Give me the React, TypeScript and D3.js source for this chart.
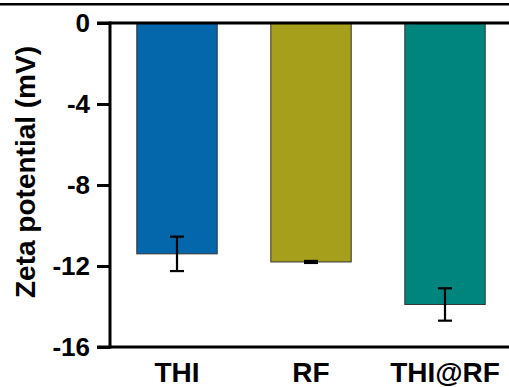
import React, { useRef, useEffect } from 'react';
import * as d3 from 'd3';

const categories = ['THI', 'RF', 'THI@RF'];
const means = [-11.4, -11.8, -13.9];
const errors = [0.85, 0.05, 0.8];
const colors = ['#0467ab', '#a59f1b', '#00857e'];
const yTicks = [0, -4, -8, -12, -16];

export default function App() {
  const svgRef = useRef<SVGSVGElement | null>(null);

  useEffect(() => {
    const W = 509;
    const H = 387;
    const svg = d3.select(svgRef.current);
    svg.selectAll('*').remove();
    svg.attr('width', W).attr('height', H);

    const left = 110;
    const top = 23;
    const bottom = 347;
    const font = 'Liberation Sans, Arial, sans-serif';

    const x = d3.scaleBand<string>()
      .domain(categories)
      .range([left, 512])
      .paddingInner(0.4)
      .paddingOuter(0.2);

    const y = d3.scaleLinear().domain([0, -16]).range([top, bottom]);

    const data = categories.map((c, i) => ({ c, v: means[i], e: errors[i], color: colors[i] }));

    // cropped frame line at top
    svg.append('rect').attr('x', 0).attr('y', 3).attr('width', W).attr('height', 2.5).attr('fill', '#000');

    // bars
    svg.append('g')
      .selectAll('rect')
      .data(data)
      .enter().append('rect')
      .attr('x', d => x(d.c)!)
      .attr('y', y(0))
      .attr('width', x.bandwidth())
      .attr('height', d => y(d.v) - y(0))
      .attr('fill', d => d.color)
      .attr('stroke', '#333')
      .attr('stroke-width', 1);

    // error bars
    const eb = svg.append('g').attr('stroke', '#000').attr('stroke-width', 2.2);
    data.forEach(d => {
      const cx = x(d.c)! + x.bandwidth() / 2;
      const y1 = y(d.v + d.e);
      const y2 = y(d.v - d.e);
      eb.append('line').attr('x1', cx).attr('x2', cx).attr('y1', y1).attr('y2', y2);
      eb.append('line').attr('x1', cx - 7).attr('x2', cx + 7).attr('y1', y1).attr('y2', y1);
      eb.append('line').attr('x1', cx - 7).attr('x2', cx + 7).attr('y1', y2).attr('y2', y2);
    });

    // Y axis
    const yAxis = svg.append('g')
      .attr('transform', `translate(${left},0)`)
      .call(d3.axisLeft(y).tickValues(yTicks).tickSize(13).tickPadding(7).tickFormat(d => String(d)));
    yAxis.select('.domain').remove();
    yAxis.selectAll('line').attr('stroke', '#000').attr('stroke-width', 3);
    yAxis.selectAll('text')
      .attr('fill', '#000')
      .style('font-family', font)
      .style('font-weight', '700')
      .style('font-size', '26px');

    svg.append('line')
      .attr('x1', left).attr('x2', left)
      .attr('y1', top - 1.5).attr('y2', bottom + 1.5)
      .attr('stroke', '#000').attr('stroke-width', 3);

    // horizontal lines at 0 and -16
    [0, -16].forEach(v => {
      svg.append('line')
        .attr('x1', left - 13).attr('x2', W)
        .attr('y1', y(v)).attr('y2', y(v))
        .attr('stroke', '#000').attr('stroke-width', 3);
    });

    // X labels
    svg.append('g')
      .selectAll('text')
      .data(categories)
      .enter().append('text')
      .attr('x', d => x(d)! + x.bandwidth() / 2)
      .attr('y', 382)
      .attr('text-anchor', 'middle')
      .style('font-family', font)
      .style('font-weight', '700')
      .style('font-size', '28px')
      .attr('fill', '#000')
      .text(d => d);

    // Y title
    svg.append('text')
      .attr('transform', `translate(35,172) rotate(-90)`)
      .attr('text-anchor', 'middle')
      .style('font-family', font)
      .style('font-weight', '700')
      .style('font-size', '28px')
      .attr('fill', '#000')
      .text('Zeta potential (mV)');
  }, []);

  return (
    <div style={{ position: 'absolute', left: 0, top: 0, width: 509, height: 387, background: '#fff' }}>
      <svg ref={svgRef} style={{ display: 'block' }} />
    </div>
  );
}
